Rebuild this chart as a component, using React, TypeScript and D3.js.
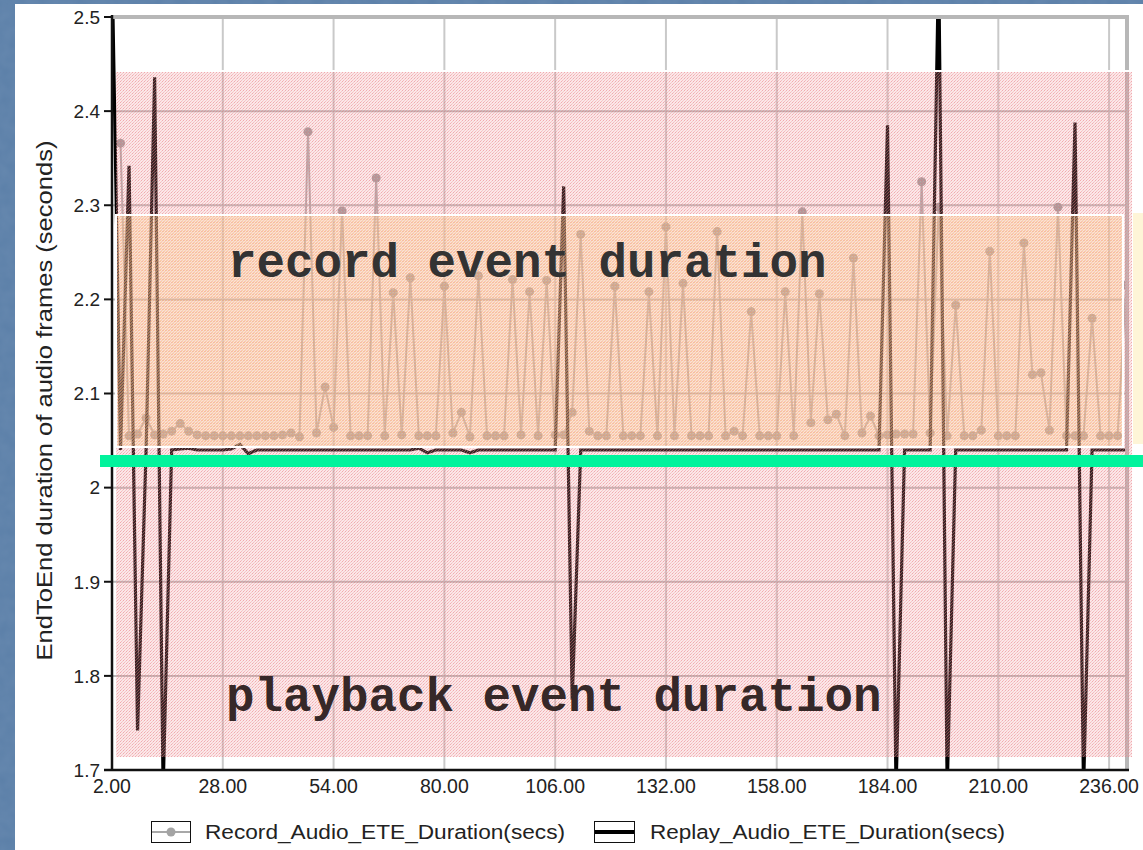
import React from 'react';
import * as d3 from 'd3';

// ---- data ----
const recordSeconds = [
  4, 6, 8, 10, 12, 14, 16, 18, 20, 22, 24, 26, 28, 30, 32, 34, 36, 38, 40, 42,
  44, 46, 48, 50, 52, 54, 56, 58, 60, 62, 64, 66, 68, 70, 72, 74, 76, 78, 80, 82,
  84, 86, 88, 90, 92, 94, 96, 98, 100, 102, 104, 106, 108, 110, 112, 114, 116, 118, 120, 122,
  124, 126, 128, 130, 132, 134, 136, 138, 140, 142, 144, 146, 148, 150, 152, 154, 156, 158, 160, 162,
  164, 166, 168, 170, 172, 174, 176, 178, 180, 182, 184, 186, 188, 190, 192, 194, 196, 198, 200, 202,
  204, 206, 208, 210, 212, 214, 216, 218, 220, 222, 224, 226, 228, 230, 232, 234, 236, 238, 240,
];
const recordValues = [
  2.366, 2.055, 2.057, 2.074, 2.056, 2.057, 2.060, 2.068, 2.060, 2.056, 2.055, 2.055, 2.055, 2.055, 2.055, 2.055, 2.055, 2.055, 2.055, 2.056,
  2.058, 2.054, 2.378, 2.058, 2.107, 2.064, 2.294, 2.055, 2.055, 2.055, 2.329, 2.055, 2.207, 2.056, 2.223, 2.055, 2.055, 2.055, 2.214, 2.058,
  2.080, 2.054, 2.225, 2.055, 2.055, 2.055, 2.221, 2.056, 2.208, 2.055, 2.220, 2.056, 2.056, 2.080, 2.269, 2.060, 2.055, 2.055, 2.214, 2.055,
  2.055, 2.055, 2.208, 2.055, 2.277, 2.055, 2.217, 2.055, 2.055, 2.055, 2.272, 2.055, 2.060, 2.055, 2.187, 2.055, 2.055, 2.055, 2.208, 2.055,
  2.293, 2.069, 2.206, 2.072, 2.078, 2.055, 2.244, 2.058, 2.076, 2.055, 2.056, 2.057, 2.057, 2.057, 2.325, 2.058, 2.298, 2.055, 2.194, 2.055,
  2.055, 2.061, 2.251, 2.055, 2.055, 2.055, 2.260, 2.120, 2.122, 2.061, 2.298, 2.055, 2.055, 2.055, 2.180, 2.055, 2.055, 2.055, 2.215,
];
const replaySeconds = [
  2, 4, 6, 8, 10, 12, 14, 16, 18, 20, 22, 24, 26, 28, 30, 32, 34, 36, 38, 40,
  42, 44, 46, 48, 50, 52, 54, 56, 58, 60, 62, 64, 66, 68, 70, 72, 74, 76, 78, 80,
  82, 84, 86, 88, 90, 92, 94, 96, 98, 100, 102, 104, 106, 108, 110, 112, 114, 116, 118, 120,
  122, 124, 126, 128, 130, 132, 134, 136, 138, 140, 142, 144, 146, 148, 150, 152, 154, 156, 158, 160,
  162, 164, 166, 168, 170, 172, 174, 176, 178, 180, 182, 184, 186, 188, 190, 192, 194, 196, 198, 200,
  202, 204, 206, 208, 210, 212, 214, 216, 218, 220, 222, 224, 226, 228, 230, 232, 234, 236, 238, 240,
];
const replayValues = [
  2.56, 2.040, 2.342, 1.742, 2.040, 2.436, 1.68, 2.040, 2.041, 2.042, 2.040, 2.040, 2.040, 2.040, 2.041, 2.046, 2.036, 2.040, 2.040, 2.040,
  2.040, 2.040, 2.040, 2.040, 2.040, 2.040, 2.040, 2.040, 2.040, 2.040, 2.040, 2.040, 2.040, 2.040, 2.040, 2.040, 2.042, 2.037, 2.040, 2.040,
  2.040, 2.040, 2.037, 2.040, 2.040, 2.040, 2.040, 2.040, 2.040, 2.040, 2.040, 2.040, 2.040, 2.320, 1.775, 2.040, 2.040, 2.040, 2.040, 2.040,
  2.040, 2.040, 2.040, 2.040, 2.040, 2.040, 2.040, 2.040, 2.040, 2.040, 2.040, 2.040, 2.040, 2.040, 2.040, 2.040, 2.040, 2.040, 2.040, 2.040,
  2.040, 2.040, 2.040, 2.040, 2.040, 2.040, 2.040, 2.040, 2.040, 2.040, 2.040, 2.385, 1.68, 2.040, 2.040, 2.040, 2.040, 2.56, 1.68, 2.040,
  2.040, 2.040, 2.040, 2.040, 2.040, 2.040, 2.040, 2.040, 2.040, 2.040, 2.040, 2.040, 2.040, 2.388, 1.68, 2.040, 2.040, 2.040, 2.040, 2.040,
];
const xTicks = [2, 28, 54, 80, 106, 132, 158, 184, 210, 236];
const yTicks = [1.7, 1.8, 1.9, 2.0, 2.1, 2.2, 2.3, 2.4, 2.5];
const seriesNames = ['Record_Audio_ETE_Duration(secs)', 'Replay_Audio_ETE_Duration(secs)'];
const yTitle = 'EndToEnd duration of audio frames (seconds)';
const annotationTexts = ['record event duration', 'playback event duration'];

const SANS = '"Liberation Sans", Arial, sans-serif';
const MONO = '"Liberation Mono", "Courier New", monospace';

export default function App() {
  const W = 1143;
  const H = 850;
  const P = { left: 112, right: 1127, top: 17, bottom: 770 };
  const x = d3.scaleLinear().domain([2, 240.2]).range([P.left, P.right]);
  const y = d3.scaleLinear().domain([1.7, 2.5]).range([P.bottom, P.top]);

  const rec: [number, number][] = recordSeconds.map((s, i) => [s, recordValues[i]]);
  const rep: [number, number][] = replaySeconds.map((s, i) => [s, replayValues[i]]);
  const line = d3
    .line<[number, number]>()
    .x((d) => x(d[0]))
    .y((d) => y(d[1]));

  return (
    <div style={{ position: 'absolute', left: 0, top: 0, width: W, height: H }}>
      <svg width={W} height={H} viewBox={`0 0 ${W} ${H}`} style={{ display: 'block' }}>
        <defs>
          <pattern id="pinkDots" width="3" height="3" patternUnits="userSpaceOnUse">
            <rect x="0" y="0" width="1" height="1" fill="#e86d76" opacity="0.5" />
            <rect x="2" y="1" width="1" height="1" fill="#ee9aa0" opacity="0.4" />
            <rect x="1" y="2" width="1" height="1" fill="#e87a82" opacity="0.4" />
          </pattern>
          <pattern id="orangeDots" width="3" height="3" patternUnits="userSpaceOnUse">
            <rect x="1" y="0" width="1" height="1" fill="#f8aa48" opacity="0.45" />
            <rect x="0" y="1" width="1" height="1" fill="#fcd08a" opacity="0.4" />
            <rect x="2" y="2" width="1" height="1" fill="#fab860" opacity="0.4" />
          </pattern>
          <clipPath id="plotClip">
            <rect x={P.left} y={P.top} width={P.right - P.left} height={P.bottom - P.top} />
          </clipPath>
          <filter id="tex" x="0" y="0" width="100%" height="100%">
            <feTurbulence type="fractalNoise" baseFrequency="0.08" numOctaves="2" seed="3" result="n" />
            <feColorMatrix
              in="n"
              type="matrix"
              values="0 0 0 0 0.25  0 0 0 0 0.38  0 0 0 0 0.55  0 0 0 0.5 0"
            />
          </filter>
        </defs>

        {/* slide background */}
        <rect x={0} y={0} width={W} height={H} fill="#5b7fa8" />
        <rect x={0} y={0} width={W} height={H} filter="url(#tex)" opacity={0.5} />
        {/* white chart panel */}
        <rect x={15} y={4} width={W - 15} height={H - 4} fill="#ffffff" />

        {/* grid */}
        {xTicks.map((t) => (
          <line key={'gx' + t} x1={x(t)} x2={x(t)} y1={P.top} y2={P.bottom} stroke="#c9c9c9" strokeWidth={2} />
        ))}
        {yTicks.map((t) => (
          <line key={'gy' + t} x1={P.left} x2={P.right} y1={y(t)} y2={y(t)} stroke="#b9b9b9" strokeWidth={2} />
        ))}

        {/* series */}
        <g clipPath="url(#plotClip)">
          <path d={line(rec) || ''} fill="none" stroke="#acacac" strokeWidth={2} />
          {rec.map((d, i) => (
            <circle key={'c' + i} cx={x(d[0])} cy={y(d[1])} r={4.5} fill="#9c9c9c" />
          ))}
          <path d={line(rep) || ''} fill="none" stroke="#000000" strokeWidth={3.2} strokeLinejoin="miter" />
        </g>

        {/* frame */}
        <line x1={P.left} x2={P.right + 2} y1={P.top} y2={P.top} stroke="#b7b7b7" strokeWidth={4} />
        <line x1={P.right} x2={P.right} y1={P.top - 2} y2={P.bottom} stroke="#b7b7b7" strokeWidth={4} />
        <line x1={P.left} x2={P.left} y1={P.top - 2} y2={P.bottom} stroke="#111" strokeWidth={2.5} />
        <line x1={P.left - 8} x2={P.right + 2} y1={P.bottom} y2={P.bottom} stroke="#111" strokeWidth={2.5} />
        {yTicks.map((t) => (
          <line key={'ty' + t} x1={P.left - 8} x2={P.left} y1={y(t)} y2={y(t)} stroke="#111" strokeWidth={2} />
        ))}

        {/* tick labels */}
        {yTicks.map((t) => (
          <text
            key={'ly' + t}
            x={P.left - 12}
            y={y(t)}
            dy="0.36em"
            textAnchor="end"
            fontFamily={SANS}
            fontSize={19}
            fill="#222"
          >
            {String(+t.toFixed(1))}
          </text>
        ))}
        {xTicks.map((t) => (
          <text
            key={'lx' + t}
            x={x(t)}
            y={793}
            textAnchor="middle"
            fontFamily={SANS}
            fontSize={19.5}
            fill="#222"
          >
            {t.toFixed(2)}
          </text>
        ))}

        {/* axis title */}
        <text
          transform={`translate(52, ${(P.top + P.bottom) / 2 + 7}) rotate(-90)`}
          textAnchor="middle"
          fontFamily={SANS}
          fontSize={22}
          fill="#222"
          textLength={520}
          lengthAdjust="spacingAndGlyphs"
        >
          {yTitle}
        </text>

        {/* legend */}
        <rect x={151.5} y={821.5} width={39} height={21} fill="#fff" stroke="#111" strokeWidth={1} />
        <line x1={152} x2={190} y1={832} y2={832} stroke="#a8a8a8" strokeWidth={2} />
        <circle cx={171} cy={832} r={4.5} fill="#a4a4a4" />
        <text x={205} y={839} fontFamily={SANS} fontSize={20} fill="#222" textLength={360} lengthAdjust="spacingAndGlyphs">
          {seriesNames[0]}
        </text>
        <rect x={594.5} y={821.5} width={40} height={21} fill="#fff" stroke="#111" strokeWidth={1} />
        <line x1={595} x2={634} y1={832} y2={832} stroke="#000" strokeWidth={4} />
        <text x={650} y={839} fontFamily={SANS} fontSize={20} fill="#222" textLength={355} lengthAdjust="spacingAndGlyphs">
          {seriesNames[1]}
        </text>

        {/* slide overlays */}
        <rect x={116} y={71} width={1016} height={686} fill="#f09aa0" opacity={0.24} />
        <rect x={116} y={71} width={1016} height={686} fill="url(#pinkDots)" />
        <line x1={116} x2={1132} y1={71} y2={71} stroke="#fff" strokeWidth={2} />
        <rect x={116} y={215} width={1007} height={232} fill="#fcd8a6" opacity={0.28} />
        <rect x={116} y={215} width={1007} height={232} fill="url(#orangeDots)" stroke="#fff" strokeWidth={2} />
        <rect x={1133} y={213} width={10} height={231} fill="#fde9a6" opacity={0.45} />

        <text x={228} y={277} fontFamily={MONO} fontWeight="bold" fontSize={47.5} fill="#333">
          {annotationTexts[0]}
        </text>
        <text x={226} y={711} fontFamily={MONO} fontWeight="bold" fontSize={47.5} fill="#362828">
          {annotationTexts[1]}
        </text>

        <rect x={100} y={455} width={W - 100} height={12} fill="#02f39c" />
      </svg>
    </div>
  );
}
